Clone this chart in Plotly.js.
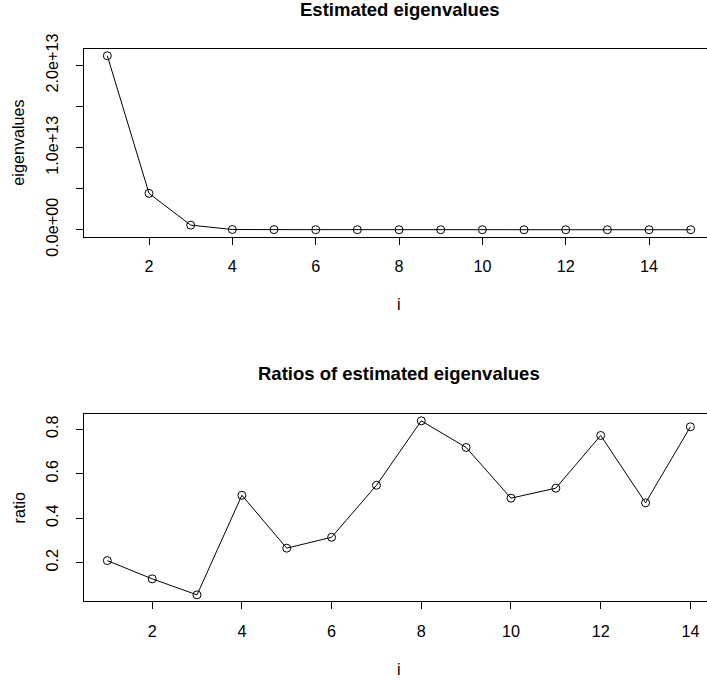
<!DOCTYPE html>
<html>
<head>
<meta charset="utf-8">
<script src="https://cdn.plot.ly/plotly-3.0.1.min.js"></script>
<style>
  html, body { margin: 0; padding: 0; background: #fff; }
  #plot { width: 707px; height: 681px; }
</style>
</head>
<body>
<div id="plot"></div>
<script>
// Index of each estimated eigenvalue
const eigIndex = [1, 2, 3, 4, 5, 6, 7, 8, 9, 10, 11, 12, 13, 14, 15];
// Estimated eigenvalues, largest first
const eigenvalues = [2.117e13, 4.425e12, 5.62e11, 3.09e10, 1.555e10, 4.12e9, 1.294e9,
                     7.09e8, 5.94e8, 4.27e8, 2.09e8, 1.12e8, 8.64e7, 4.05e7, 3.29e7];
// Ratio of each eigenvalue to the one before it
const ratioIndex = [1, 2, 3, 4, 5, 6, 7, 8, 9, 10, 11, 12, 13, 14];
const ratios = [0.209, 0.127, 0.055, 0.503, 0.265, 0.314, 0.548,
                0.838, 0.718, 0.490, 0.535, 0.772, 0.469, 0.811];

// Axis ticks
const xTicks = [2, 4, 6, 8, 10, 12, 14];
const eigTickVals = [0, 5e12, 1e13, 1.5e13, 2e13];
const eigTickText = ['0.0e+00', '', '1.0e+13', '', '2.0e+13'];
const ratioTickVals = [0.2, 0.4, 0.6, 0.8];
const ratioTickText = ['0.2', '0.4', '0.6', '0.8'];

const FONT = 'Liberation Sans, Arial, Helvetica, sans-serif';
const H = 681;
const py = p => (H - p) / H;   // pixel row -> paper fraction

const lineStyle = { color: '#000', width: 1 };
const markerStyle = { symbol: 'circle-open', size: 8, color: '#000', line: { color: '#000', width: 1 } };

const traces = [
  { x: eigIndex, y: eigenvalues, type: 'scatter', mode: 'lines+markers',
    line: lineStyle, marker: markerStyle, xaxis: 'x', yaxis: 'y', hoverinfo: 'x+y' },
  { x: ratioIndex, y: ratios, type: 'scatter', mode: 'lines+markers',
    line: lineStyle, marker: markerStyle, xaxis: 'x2', yaxis: 'y2', hoverinfo: 'x+y' }
];

const tickFont = { family: FONT, size: 16.2, color: '#000' };

function xAxis(range, anchor) {
  return {
    range: range, anchor: anchor, domain: [0, 1],
    tickmode: 'array', tickvals: xTicks, ticktext: xTicks.map(String),
    ticks: 'outside', ticklen: 7, tickwidth: 1, tickcolor: '#000',
    showline: true, linecolor: '#000', linewidth: 1, mirror: true,
    showgrid: false, zeroline: false, tickfont: tickFont, ticklabelstandoff: 8
  };
}
function yAxis(range, domain, anchor, vals, text) {
  return {
    range: range, domain: domain, anchor: anchor,
    tickmode: 'array', tickvals: vals, ticktext: text, tickangle: -90,
    ticks: 'outside', ticklen: 7, tickwidth: 1, tickcolor: '#000',
    showline: true, linecolor: '#000', linewidth: 1, mirror: false,
    showgrid: false, zeroline: false, tickfont: tickFont, ticklabelstandoff: 12
  };
}

const titleX = (399 - 84) / 623;
const ann = (text, x, yPix, opts) => Object.assign({
  text: text, xref: 'paper', yref: 'paper', x: x, y: py(yPix),
  xanchor: 'center', yanchor: 'middle', showarrow: false,
  font: { family: FONT, size: 16.2, color: '#000' }
}, opts || {});

const layout = {
  width: 707, height: 681,
  margin: { l: 84, r: 0, t: 0, b: 0, pad: 0 },
  paper_bgcolor: '#fff', plot_bgcolor: '#fff',
  showlegend: false,
  xaxis: xAxis([0.44, 15.39], 'y'),
  yaxis: yAxis([-0.0847e13, 2.2017e13], [py(236.7), py(48.8)], 'x', eigTickVals, eigTickText),
  xaxis2: xAxis([0.48, 14.37], 'y2'),
  yaxis2: yAxis([0.026, 0.870], [py(601.3), py(413.7)], 'x2', ratioTickVals, ratioTickText),
  annotations: [
    ann('<b>Estimated eigenvalues</b>', titleX, 9.5, { font: { family: FONT, size: 18.5, color: '#000' } }),
    ann('<b>Ratios of estimated eigenvalues</b>', titleX, 373, { font: { family: FONT, size: 18.5, color: '#000' } }),
    ann('i', titleX, 304),
    ann('i', titleX, 669),
    ann('eigenvalues', -66 / 623, 142.7, { textangle: -90 }),
    ann('ratio', -66 / 623, 507.5, { textangle: -90 })
  ]
};

Plotly.newPlot('plot', traces, layout, { staticPlot: true, displayModeBar: false });
</script>
</body>
</html>
